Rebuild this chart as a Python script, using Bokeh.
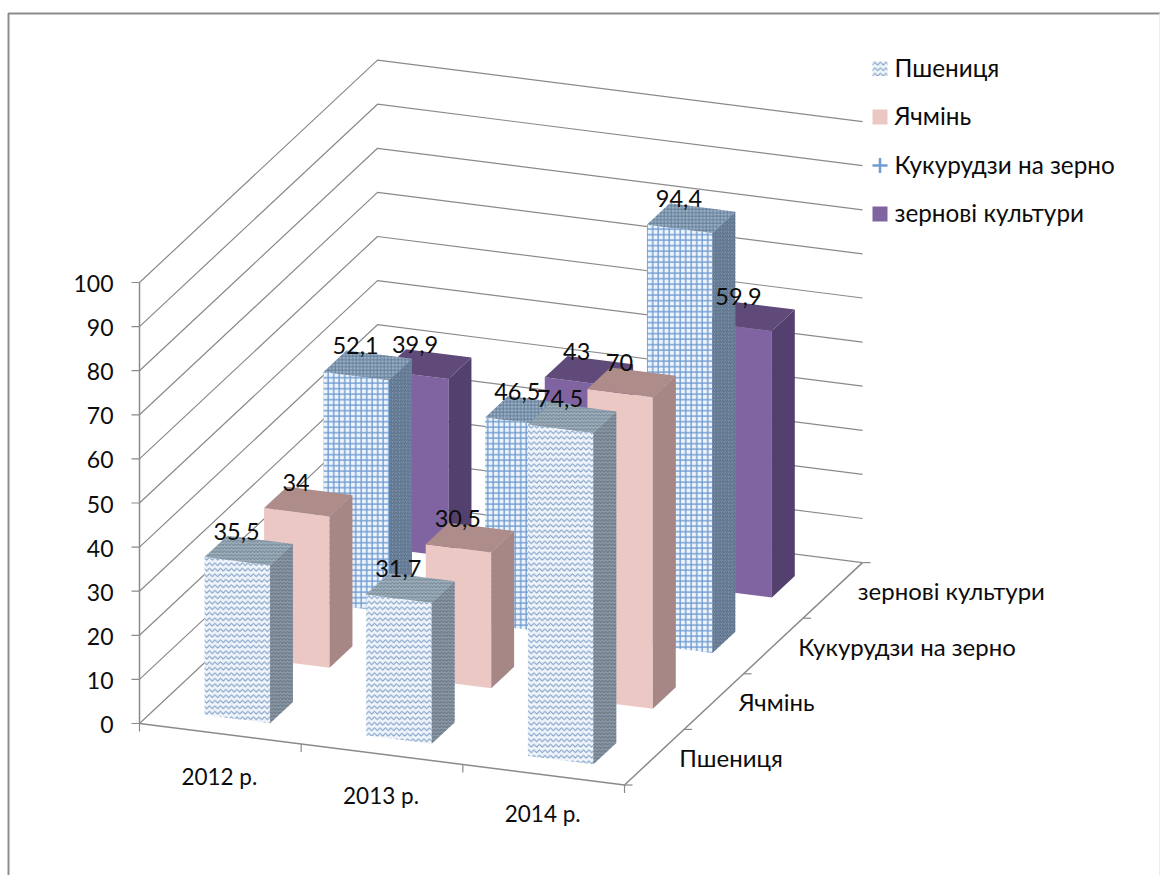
from bokeh.plotting import figure
from bokeh.models import Range1d
from bokeh.embed import file_html
from bokeh.resources import INLINE
from bokeh.core.properties import value

years = ["2012 р.", "2013 р.", "2014 р."]
series = ["Пшениця", "Ячмінь", "Кукурудзи на зерно", "зернові культури"]
wheat = [35.5, 31.7, 74.5]
barley = [34, 30.5, 70]
corn = [52.1, 46.5, 94.4]
cereals = [39.9, 43, 59.9]
y_ticks = [0, 10, 20, 30, 40, 50, 60, 70, 80, 90, 100]

FONT = "Lato"
W, H = 1160, 875
p = figure(width=W, height=H, output_backend="svg", toolbar_location=None,
           x_range=Range1d(0, W), y_range=Range1d(H, 0),
           min_border=0, outline_line_color=None)
p.axis.visible = False
p.grid.visible = False

# oblique projection of (category, series, value)
OX, OY = 139.0, 723.0
CX, CY = 161.67, 20.5
DX, DY = 59.5, -55.6
VS = 4.41
BAR_K = 4.45 / 4.41


def proj(u, v, h=0.0):
    return OX + CX * u + DX * v, OY + CY * u + DY * v - VS * h


GRID = "#8a8a8a"
TXT = "#0c0c0c"
# frame
p.line([8, 8, W], [H, 13, 13], line_color="#8c8c8c", line_width=2)
p.line([W - 1, W - 1], [13, H], line_color="#ececec", line_width=1)

# walls
for t in y_ticks:
    a, b, c = proj(0, 0, t), proj(0, 4, t), proj(3, 4, t)
    p.line([a[0], b[0], c[0]], [a[1], b[1], c[1]], line_color=GRID, line_width=1.2)
    p.line([a[0] - 8, a[0]], [a[1], a[1]], line_color=GRID, line_width=1.2)
    p.text([a[0] - 26], [a[1] + 1], text=[str(t)], text_align="right", text_baseline="middle",
           text_font=value(FONT), text_font_size="23px", text_color=TXT)

# axes
a, b = proj(0, 0, 0), proj(0, 0, 100)
p.line([a[0], b[0]], [a[1], b[1]], line_color=GRID, line_width=1.5)
a, b, c = proj(0, 0), proj(3, 0), proj(3, 4)
p.line([a[0], b[0], c[0]], [a[1], b[1], c[1]], line_color=GRID, line_width=1.5)
for i in range(4):
    t = proj(i, 0)
    p.line([t[0], t[0]], [t[1], t[1] + 8], line_color=GRID, line_width=1.2)
for i in range(5):
    t = proj(3, i)
    p.line([t[0], t[0] + 8], [t[1], t[1]], line_color=GRID, line_width=1.2)

styles = [
    dict(front=dict(fill_color="#eef4fa", hatch_pattern="horizontal_wave", hatch_color="#6f92bd", hatch_scale=5.5, hatch_weight=1),
         top=dict(fill_color="#9eafbd", hatch_pattern="horizontal_wave", hatch_color="#71838f", hatch_scale=3.5, hatch_weight=1),
         side=dict(fill_color="#8b98a5", hatch_pattern="horizontal_wave", hatch_color="#667280", hatch_scale=3.5, hatch_weight=1)),
    dict(front=dict(fill_color="#ecc8c5"), top=dict(fill_color="#ad8c8a"), side=dict(fill_color="#a78785")),
    dict(front=dict(fill_color="#eef4fb", hatch_pattern="cross", hatch_color="#6f9cd2", hatch_scale=5.5, hatch_weight=1.4),
         top=dict(fill_color="#9ab0c6", hatch_pattern="cross", hatch_color="#667f99", hatch_scale=3.5, hatch_weight=1),
         side=dict(fill_color="#8398b0", hatch_pattern="right_diagonal_line", hatch_color="#546a84", hatch_scale=3.5, hatch_weight=1)),
    dict(front=dict(fill_color="#8064a2"), top=dict(fill_color="#5f4a79"), side=dict(fill_color="#54406e")),
]

data = [wheat, barley, corn, cereals]
U0, UW, V0, VW = 0.305, 0.405, 0.265, 0.385
labels = []
for s in range(3, -1, -1):
    for c in range(3):
        val = data[s][c] * BAR_K
        u1, u2 = c + U0, c + U0 + UW
        v1, v2 = s + V0, s + V0 + VW
        faces = {
            "front": [proj(u1, v1, 0), proj(u2, v1, 0), proj(u2, v1, val), proj(u1, v1, val)],
            "side": [proj(u2, v1, 0), proj(u2, v2, 0), proj(u2, v2, val), proj(u2, v1, val)],
            "top": [proj(u1, v1, val), proj(u2, v1, val), proj(u2, v2, val), proj(u1, v2, val)],
        }
        for name in ("front", "side", "top"):
            pts = faces[name]
            p.patch([q[0] for q in pts], [q[1] for q in pts], line_color=None, **styles[s][name])
        fl = proj(u1, v1, val)
        labels.append((fl[0] + 32, fl[1] - 26, str(data[s][c]).replace(".", ",")))

p.text([l[0] for l in labels], [l[1] for l in labels], text=[l[2] for l in labels],
       text_align="center", text_baseline="middle", text_font=value(FONT), text_font_size="23.5px",
       text_color=TXT)

# category labels
for i, y in enumerate(years):
    t = proj(i + 0.5, 0)
    p.text([t[0] - 1], [776 + i * 18.5], text=[y], text_align="center", text_baseline="middle",
           text_font=value(FONT), text_font_size="22.5px", text_color=TXT)
for i, s in enumerate(series):
    t = proj(3, i + 0.5)
    p.text([t[0] + 25], [t[1]], text=[s], text_align="left", text_baseline="middle",
           text_font=value(FONT), text_font_size="24px", text_color=TXT)

# legend
for i, s in enumerate(series):
    yc = 68 + i * 48.5
    x1, x2 = 872, 887
    st = styles[i]["front"]
    if i == 2:
        p.line([x1, x2], [yc, yc], line_color="#6f9bd0", line_width=2.5)
        p.line([(x1 + x2) / 2] * 2, [yc - 7.5, yc + 7.5], line_color="#6f9bd0", line_width=2.5)
    else:
        p.patch([x1, x2, x2, x1], [yc - 7.5, yc - 7.5, yc + 7.5, yc + 7.5], line_color=None, **st)
    p.text([894], [yc - 1.5], text=[s], text_align="left", text_baseline="middle",
           text_font=value(FONT), text_font_size="24.3px", text_color=TXT)

open("out.html", "w").write(file_html(p, INLINE))
